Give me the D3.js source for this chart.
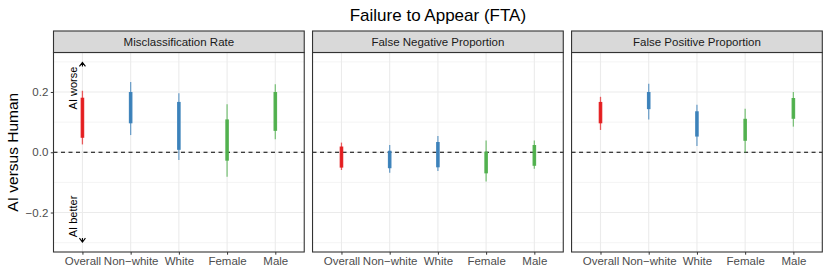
<!DOCTYPE html>
<html>
<head>
<meta charset="utf-8">
<script src="https://cdn.jsdelivr.net/npm/d3@7"></script>
<style>
  body { margin: 0; background: #fff; }
  text { font-family: "Liberation Sans", Arial, sans-serif; }
</style>
</head>
<body>
<div id="chart"></div>
<script>
// categories and facets
const groups = ["Overall", "Non\u2212white", "White", "Female", "Male"];
const panels = ["Misclassification Rate", "False Negative Proportion", "False Positive Proportion"];
const groupColors = ["#E41A1C", "#377EB8", "#377EB8", "#4DAF4A", "#4DAF4A"];
const yTicks = [-0.2, 0, 0.2];

// outer interval (thin line), one row per panel, one value per group
const outerLo = [
  [0.026, 0.057, -0.026, -0.081, 0.043],
  [-0.059, -0.068, -0.062, -0.097, -0.055],
  [0.074, 0.109, 0.021, -0.001, 0.085]
];
const outerHi = [
  [0.204, 0.233, 0.196, 0.159, 0.226],
  [0.032, 0.024, 0.054, 0.039, 0.039],
  [0.184, 0.227, 0.158, 0.144, 0.200]
];
// inner interval (thick line)
const innerLo = [
  [0.048, 0.096, 0.008, -0.028, 0.071],
  [-0.051, -0.053, -0.050, -0.070, -0.045],
  [0.096, 0.143, 0.052, 0.038, 0.111]
];
const innerHi = [
  [0.181, 0.200, 0.167, 0.109, 0.200],
  [0.019, 0.005, 0.034, 0.002, 0.024],
  [0.167, 0.200, 0.136, 0.111, 0.180]
];

const width = 830, height = 277;
const margin = {top: 31, left: 53.5, right: 7.7, bottom: 25};
const stripH = 21.5;
const gap = 8.3;
const panelW = (width - margin.left - margin.right - 2 * gap) / 3;
const plotTop = margin.top + stripH;
const plotBottom = height - margin.bottom;
const fs = 11.5;

const svg = d3.select("#chart").append("svg")
  .attr("width", width)
  .attr("height", height);

const y = d3.scaleLinear()
  .domain([-0.331, 0.331])
  .range([plotBottom, plotTop]);

// title
svg.append("text")
  .attr("x", margin.left + (width - margin.left - margin.right) / 2)
  .attr("y", 21)
  .attr("text-anchor", "middle")
  .attr("font-size", 17)
  .attr("fill", "#000")
  .text("Failure to Appear (FTA)");

// y axis label
svg.append("text")
  .attr("transform", `translate(18,${(plotTop + plotBottom) / 2}) rotate(-90)`)
  .attr("text-anchor", "middle")
  .attr("font-size", 15.5)
  .attr("fill", "#000")
  .text("AI versus Human");

// left axis
const yAxis = svg.append("g")
  .attr("transform", `translate(${margin.left},0)`)
  .call(d3.axisLeft(y).tickValues(yTicks).tickSize(2.7).tickPadding(2.5)
    .tickFormat(d => d3.format(".1f")(d).replace("-", "\u2212")));
yAxis.select(".domain").remove();
yAxis.selectAll("line").attr("stroke", "#333").attr("stroke-width", 1);
yAxis.selectAll("text").attr("fill", "#4d4d4d").attr("font-size", fs)
  .attr("font-family", "Liberation Sans, Arial, sans-serif");

panels.forEach((name, p) => {
  const x0 = margin.left + p * (panelW + gap);
  const g = svg.append("g").attr("transform", `translate(${x0},0)`);

  const x = d3.scalePoint()
    .domain(groups)
    .range([0, panelW])
    .padding(0.6);

  // background
  g.append("rect")
    .attr("x", 0).attr("y", plotTop)
    .attr("width", panelW).attr("height", plotBottom - plotTop)
    .attr("fill", "#fff");

  // minor grid
  g.selectAll(".minor")
    .data([-0.3, -0.1, 0.1, 0.3])
    .join("line")
    .attr("x1", 0).attr("x2", panelW)
    .attr("y1", d => y(d)).attr("y2", d => y(d))
    .attr("stroke", "#ebebeb").attr("stroke-width", 0.55);

  // major grid
  g.selectAll(".major")
    .data(yTicks)
    .join("line")
    .attr("x1", 0).attr("x2", panelW)
    .attr("y1", d => y(d)).attr("y2", d => y(d))
    .attr("stroke", "#ebebeb").attr("stroke-width", 1.1);
  g.selectAll(".vmajor")
    .data(groups)
    .join("line")
    .attr("x1", d => x(d)).attr("x2", d => x(d))
    .attr("y1", plotTop).attr("y2", plotBottom)
    .attr("stroke", "#ebebeb").attr("stroke-width", 1.1);

  // reference line
  g.append("line")
    .attr("x1", 0).attr("x2", panelW)
    .attr("y1", y(0)).attr("y2", y(0))
    .attr("stroke", "#000").attr("stroke-width", 1.1)
    .attr("stroke-dasharray", "4,3.5");

  // thin intervals
  g.selectAll(".outer")
    .data(groups)
    .join("line")
    .attr("x1", d => x(d)).attr("x2", d => x(d))
    .attr("y1", (d, i) => y(outerLo[p][i]))
    .attr("y2", (d, i) => y(outerHi[p][i]))
    .attr("stroke", (d, i) => groupColors[i])
    .attr("stroke-opacity", 0.7)
    .attr("stroke-width", 1.3);

  // thick intervals
  g.selectAll(".inner")
    .data(groups)
    .join("line")
    .attr("x1", d => x(d)).attr("x2", d => x(d))
    .attr("y1", (d, i) => y(innerLo[p][i]))
    .attr("y2", (d, i) => y(innerHi[p][i]))
    .attr("stroke", (d, i) => groupColors[i])
    .attr("stroke-opacity", 0.95)
    .attr("stroke-width", 3.6);

  // annotations in first panel
  if (p === 0) {
    const ax = x(groups[0]);
    [[0.213, "AI worse", 0.298, -1], [-0.213, "AI better", -0.298, 1]].forEach(([ty, label, tip, dir]) => {
      g.append("text")
        .attr("transform", `translate(${ax - 5.5},${y(ty)}) rotate(-90)`)
        .attr("text-anchor", "middle")
        .attr("font-size", 11)
        .attr("fill", "#000")
        .text(label);
      const ty0 = y(tip);
      g.append("path")
        .attr("d", `M${ax - 3},${ty0 - dir * 4}L${ax},${ty0}L${ax + 3},${ty0 - dir * 4}M${ax},${ty0}L${ax},${ty0 - dir * 4}`)
        .attr("fill", "none")
        .attr("stroke", "#000")
        .attr("stroke-width", 1.1);
    });
  }

  // panel border
  g.append("rect")
    .attr("x", 0).attr("y", plotTop)
    .attr("width", panelW).attr("height", plotBottom - plotTop)
    .attr("fill", "none").attr("stroke", "#333").attr("stroke-width", 1.1);

  // strip
  g.append("rect")
    .attr("x", 0).attr("y", margin.top)
    .attr("width", panelW).attr("height", stripH)
    .attr("fill", "#d9d9d9").attr("stroke", "#333").attr("stroke-width", 1.1);
  g.append("text")
    .attr("x", panelW / 2)
    .attr("y", margin.top + stripH / 2)
    .attr("dy", "0.35em")
    .attr("text-anchor", "middle")
    .attr("font-size", fs)
    .attr("fill", "#1a1a1a")
    .text(name);

  // x axis
  const xAxis = g.append("g")
    .attr("transform", `translate(0,${plotBottom})`)
    .call(d3.axisBottom(x).tickSize(2.7).tickPadding(2.5));
  xAxis.select(".domain").remove();
  xAxis.selectAll("line").attr("stroke", "#333").attr("stroke-width", 1);
  xAxis.selectAll("text").attr("fill", "#4d4d4d").attr("font-size", fs)
    .attr("font-family", "Liberation Sans, Arial, sans-serif");
});
</script>
</body>
</html>
